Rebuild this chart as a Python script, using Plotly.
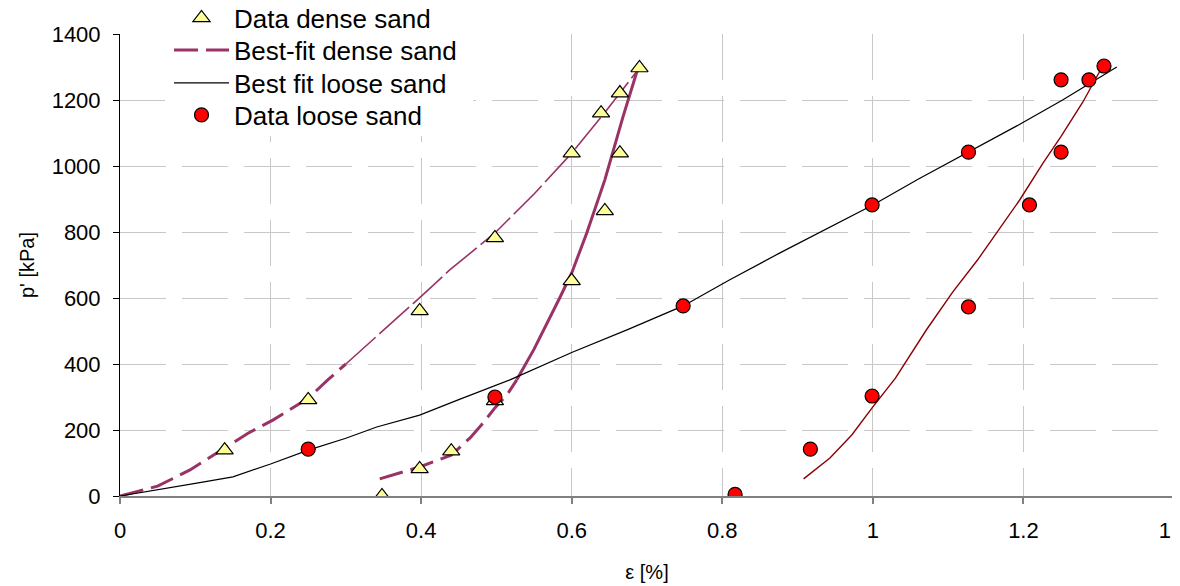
import plotly.graph_objects as go

# ---- data ----
dense_x = [0.139, 0.25, 0.348, 0.398, 0.398, 0.44, 0.498, 0.498, 0.6, 0.6, 0.644, 0.639, 0.664, 0.664, 0.69]
dense_y = [139, 291, 0, 82, 561, 136, 288, 782, 652, 1039, 864, 1160, 1039, 1221, 1297]

loose_x = [0.25, 0.498, 0.748, 0.817, 0.917, 0.999, 0.999, 1.127, 1.127, 1.208, 1.25, 1.25, 1.287, 1.307]
loose_y = [142, 300, 576, 5, 142, 303, 882, 573, 1042, 882, 1042, 1261, 1261, 1303]

# dense sand best fit: loading (thick dashed lower, thin dashed upper)
dfit_load_lo_x = [0, 0.05, 0.093, 0.139, 0.17, 0.203, 0.25, 0.276, 0.3]
dfit_load_lo_y = [0, 30, 79, 145, 190, 230, 296, 352, 400]
dfit_load_hi_x = [0.3, 0.35, 0.4, 0.438, 0.498, 0.55, 0.6, 0.645, 0.69]
dfit_load_hi_y = [400, 502, 605, 685, 797, 915, 1039, 1165, 1297]
# dense sand best fit: reloading (dashed lower, solid upper)
dfit_rel_lo_x = [0.345, 0.37, 0.398, 0.44, 0.465, 0.48, 0.498, 0.515, 0.527]
dfit_rel_lo_y = [52, 68, 88, 124, 176, 215, 267, 310, 352]
dfit_rel_hi_x = [0.527, 0.55, 0.584, 0.6, 0.62, 0.644, 0.668, 0.686, 0.69]
dfit_rel_hi_y = [352, 445, 600, 676, 797, 958, 1148, 1282, 1300]

# loose sand best fit
lfit_x = [0, 0.05, 0.102, 0.15, 0.2, 0.25, 0.3, 0.341, 0.398, 0.45, 0.518, 0.6, 0.675,
          0.748, 0.81, 0.876, 0.94, 1.0, 1.06, 1.127, 1.19, 1.252, 1.324]
lfit_y = [0, 18, 39, 58, 97, 139, 175, 209, 245, 292, 352, 435, 505,
          576, 655, 736, 812, 882, 960, 1042, 1120, 1200, 1300]
# loose sand reloading fit
lrel_x = [0.908, 0.943, 0.972, 1.0, 1.03, 1.071, 1.106, 1.139, 1.195, 1.226, 1.25, 1.279, 1.306]
lrel_y = [52, 115, 185, 270, 357, 503, 618, 715, 897, 1009, 1090, 1194, 1306]

x_ticks = [0, 0.2, 0.4, 0.6, 0.8, 1.0, 1.2, 1.4]
x_labels = ["0", "0.2", "0.4", "0.6", "0.8", "1", "1.2", "1.4"]
y_ticks = [0, 200, 400, 600, 800, 1000, 1200, 1400]

PURPLE = "#993366"
FONT = "Liberation Sans, Arial, sans-serif"

fig = go.Figure()

fig.add_trace(go.Scatter(x=dfit_load_lo_x, y=dfit_load_lo_y, mode="lines", name="Best-fit dense sand",
                         line=dict(color=PURPLE, width=3, dash="24px,8px"), legend="legend2"))
fig.add_trace(go.Scatter(x=dfit_load_hi_x, y=dfit_load_hi_y, mode="lines", showlegend=False,
                         line=dict(color=PURPLE, width=1.6, dash="40px,5px")))
fig.add_trace(go.Scatter(x=dfit_rel_lo_x, y=dfit_rel_lo_y, mode="lines", showlegend=False,
                         line=dict(color=PURPLE, width=3, dash="24px,8px")))
fig.add_trace(go.Scatter(x=dfit_rel_hi_x, y=dfit_rel_hi_y, mode="lines", showlegend=False,
                         line=dict(color=PURPLE, width=3)))
fig.add_trace(go.Scatter(x=lfit_x, y=lfit_y, mode="lines", name="Best fit loose sand",
                         line=dict(color="black", width=1.2), legend="legend3"))
fig.add_trace(go.Scatter(x=lrel_x, y=lrel_y, mode="lines", showlegend=False,
                         line=dict(color="#8B0000", width=1.4)))

fig.add_trace(go.Scatter(x=dense_x, y=dense_y, mode="markers", name="Data dense sand",
                         marker=dict(symbol="triangle-up", size=15, color="#FFFF99",
                                     line=dict(color="black", width=1.2)), legend="legend"))
fig.add_trace(go.Scatter(x=loose_x, y=loose_y, mode="markers", name="Data loose sand",
                         marker=dict(symbol="circle", size=14, color="#FF0000",
                                     line=dict(color="black", width=1.2)), legend="legend4"))

leg_common = dict(x=0.0465, xanchor="left", yanchor="middle", bgcolor="rgba(0,0,0,0)",
                  font=dict(size=26, family=FONT, color="black"), itemwidth=55)

# white area behind the legend (hides gridlines there, as in the original)
fig.add_shape(type="rect", xref="paper", yref="paper", x0=0.0427, x1=0.335, y0=0.779, y1=1.08,
              fillcolor="white", line=dict(width=0), layer="above")

fig.update_layout(
    width=1172, height=578,
    margin=dict(l=112, r=6, t=26, b=90, autoexpand=False),
    paper_bgcolor="white", plot_bgcolor="white",
    font=dict(family=FONT, size=22, color="black"),
    showlegend=True,
    legend=dict(y=1.0345, **leg_common),
    legend2=dict(y=0.9654, **leg_common),
    legend3=dict(y=0.8939, **leg_common),
    legend4=dict(y=0.8247, **leg_common),
    xaxis=dict(range=[0, 1.4], tickvals=x_ticks, ticktext=x_labels,
               showgrid=True, gridcolor="#c8c8c8", gridwidth=1, griddash="46px,16px",
               showline=True, linecolor="#808080", linewidth=2,
               ticks="outside", ticklen=6, tickcolor="#808080", tickwidth=1.5,
               zeroline=False, ticklabelstandoff=8, ticklabeloverflow="allow",
               title=dict(text="ε [%]", font=dict(size=20), standoff=23)),
    yaxis=dict(range=[0, 1400], tickvals=y_ticks,
               showgrid=True, gridcolor="#c8c8c8", gridwidth=1, griddash="46px,16px",
               showline=True, linecolor="black", linewidth=1,
               ticks="outside", ticklen=6, tickcolor="black", tickwidth=1,
               zeroline=False, ticklabelstandoff=8,
               title=dict(text="p' [kPa]", font=dict(size=20), standoff=11)),
)

fig.write_html("out.html")
